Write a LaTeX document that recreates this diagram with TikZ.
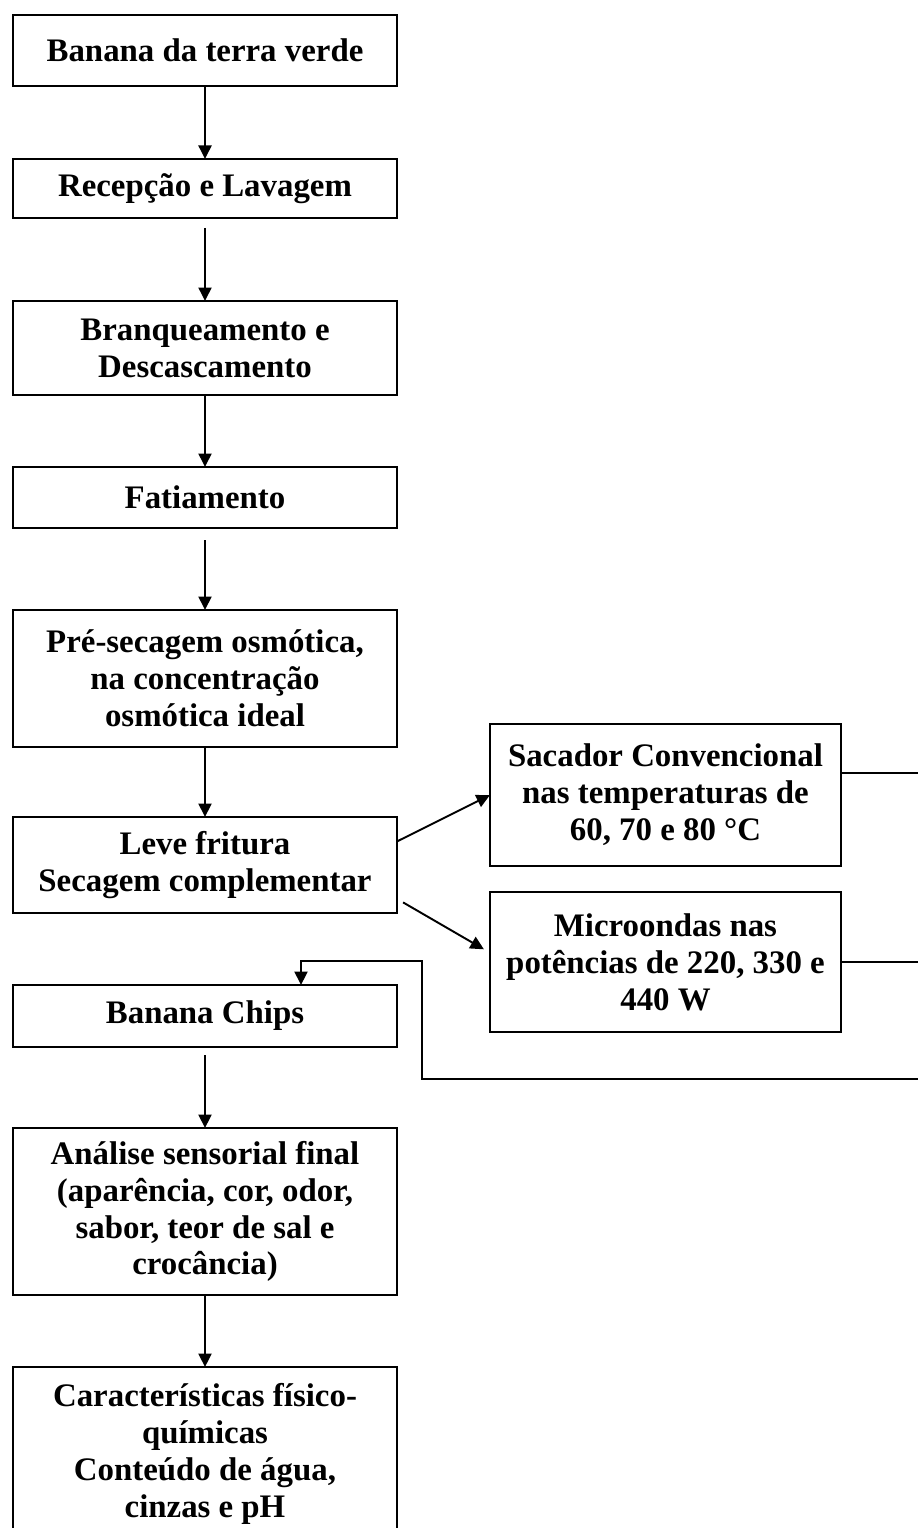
\documentclass[tikz,border=0pt]{standalone}
\usepackage{fontspec}
\setmainfont{Liberation Serif}
\usetikzlibrary{arrows.meta, positioning, calc}
\tikzset{node distance=1.44cm, >={Triangle[length=2.7mm,width=2.6mm]},
	box/.style={draw, rectangle, line width=1.5pt, outer sep=0pt, align=center, minimum width=7.68cm,
		font=\fontsize{18.7}{21}\selectfont\bfseries},
	sidebox/.style={box, minimum width=7.02cm},
	flow/.style={->, line width=1.1pt}}

\begin{document}
\begin{tikzpicture}[x=0.2mm, y=-0.2mm]
	\useasboundingbox (0,0) rectangle (918,1528);
	\node[box, minimum height=1.42cm] (0) at (205,50.5) {Banana da terra verde};
	\node[box, minimum height=1.18cm] (1) [below=1.46cm of 0] {Recepção e Lavagem};
	\node[box, minimum height=1.88cm] (2) [below=1.66cm of 1] {Branqueamento e\\Descascamento};
	\node[box, minimum height=1.22cm] (3) [below=of 2] {Fatiamento};
	\node[box, minimum height=2.74cm] (4) [below=1.64cm of 3] {Pré-secagem osmótica,\\na concentração\\osmótica ideal};
	\node[box, minimum height=1.92cm] (5) [below=1.40cm of 4] {Leve fritura\\Secagem complementar};
	\node[box, minimum height=1.24cm] (6) [below=of 5] {Banana Chips};
	\node[box, minimum height=3.34cm] (7) [below=1.62cm of 6] {Análise sensorial final\\(aparência, cor, odor,\\sabor, teor de sal e\\crocância)};
	\node[box, minimum height=3.48cm] (8) [below=of 7] {Características físico-\\químicas\\Conteúdo de água,\\cinzas e pH};
	\node[sidebox, minimum height=2.84cm] (9) at (665.5,795) {Sacador Convencional\\nas temperaturas de\\60, 70 e 80 °C};
	\node[sidebox, minimum height=2.80cm] (10) at (665.5,962) {Microondas nas\\potências de 220, 330 e\\440 W};
	\coordinate (r) at (930,1079);
	\coordinate (k) at (422,961);

	\draw[flow] (0) -- (1);
	\draw[flow, shorten <=10*0.2mm] (1) -- (2);
	\draw[flow] (2) -- (3);
	\draw[flow, shorten <=12*0.2mm] (3) -- (4);
	\draw[flow] (4) -- (5);
	\draw[flow, shorten <=8*0.2mm] (6) -- (7);
	\draw[flow] (7) -- (8);
	\draw[flow] (5.7) -- (9.west);
	\draw[flow, shorten <=7*0.2mm, shorten >=7*0.2mm] (5.-10) -- (10.177);
	% lines back to the chips
	\draw[line width=1.1pt] (9.7.5) -| (r);
	\draw[line width=1.1pt] (10.east) -- (10.east -| r);
	\draw[flow] (r) -| (k) -| ($(6.north)!.5!(6.north east)$);
\end{tikzpicture}
\end{document}
